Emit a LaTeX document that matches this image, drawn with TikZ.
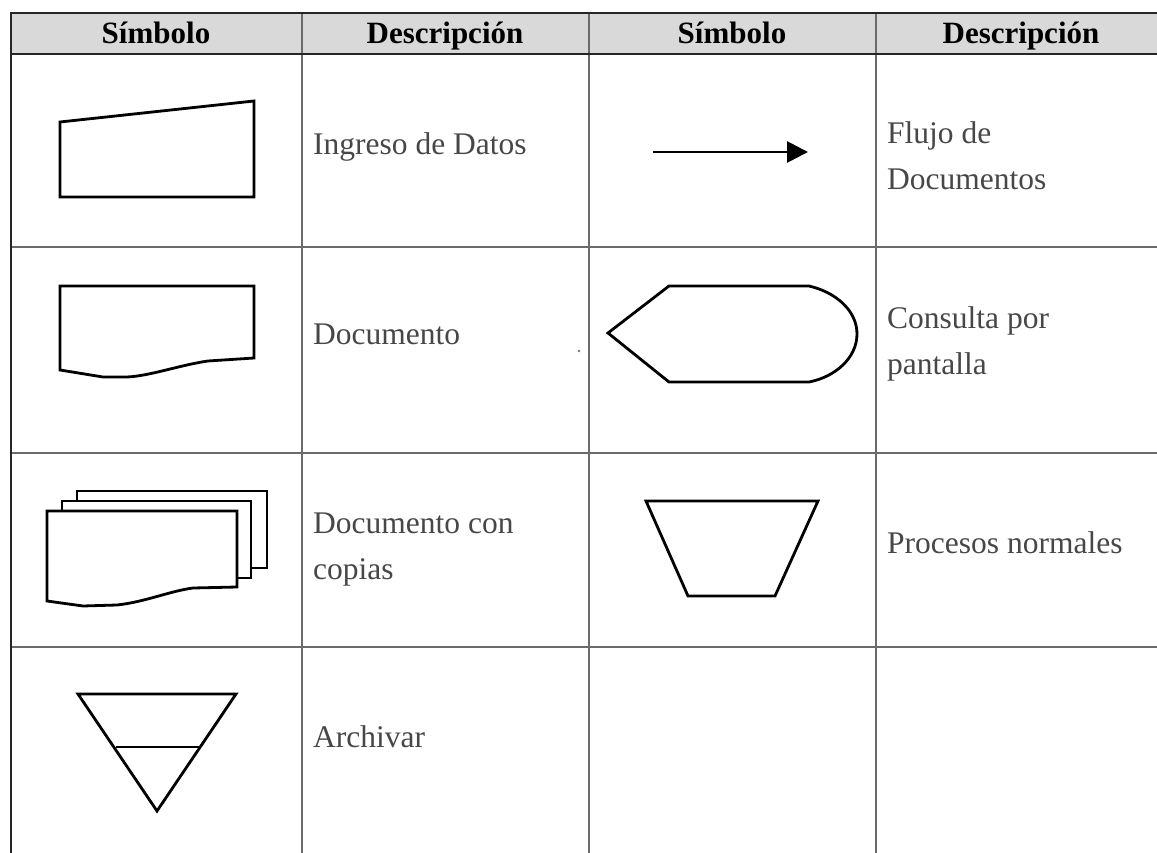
\documentclass[tikz,border=0pt]{standalone}
\usepackage{fontspec}
\setmainfont{Liberation Serif}
\usetikzlibrary{arrows.meta}
\begin{document}
\begin{tikzpicture}[x=1pt,y=-1pt,
  gridline/.style={line width=1.5pt, draw=black!58},
  frameline/.style={line width=2.6pt, draw=black!85},
  sym/.style={line width=2.8pt, draw=black, line join=miter},
  desc/.style={anchor=base west, font=\fontsize{31.5}{46}\selectfont, text=black!72, inner sep=0pt, align=left},
  head/.style={anchor=base, font=\fontsize{31}{36}\selectfont\bfseries, text=black, inner sep=0pt}]
\useasboundingbox (0,0) rectangle (1157,853);
% header background
\fill[black!15] (11,13) rectangle (1157,54);
% grid
\draw[gridline] (11,247) -- (1157,247);
\draw[gridline] (11,453) -- (1157,453);
\draw[gridline] (11,647) -- (1157,647);
\draw[gridline] (302,13) -- (302,853);
\draw[gridline] (589,13) -- (589,853);
\draw[gridline] (876,13) -- (876,853);
\draw[frameline] (1157,13) -- (11,13) -- (11,853);
\draw[frameline] (11,54) -- (1157,54);
% header
\node[head] (h1) at (156,44) {Símbolo};
\node[head] (h2) at (445,44) {Descripción};
\node[head] (h3) at (732,44) {Símbolo};
\node[head] (h4) at (1021,44) {Descripción};
% descriptions (base = baseline of last line)
\node[desc] (d1) at (313,155) {Ingreso de Datos};
\node[desc] (d2) at (313,344) {Documento};
\node[desc] (d3) at (313,579) {Documento con\\copias};
\node[desc] (d4) at (313,747) {Archivar};
\node[desc] (d5) at (887,190) {Flujo de\\Documentos};
\node[desc] (d6) at (887,374) {Consulta por\\pantalla};
\node[desc] (d7) at (887,553) {Procesos normales};
% symbol 1: ingreso de datos
\draw[sym] (60,122) -- (254,101) -- (254,197) -- (60,197) -- cycle;
% symbol 2: documento
\draw[sym] (60,370) -- (60,286) -- (254,286) -- (254,358) -- (208,361)
  .. controls (180,365) and (150,376) .. (127,377) -- (103,377) -- cycle;
% symbol 3: documento con copias
\draw[sym] (77,501) -- (77,491) -- (267,491) -- (267,568) -- (251,568);
\draw[sym] (62,511) -- (62,501) -- (251,501) -- (251,578) -- (237,578);
\draw[sym] (47,601) -- (47,511) -- (237,511) -- (237,587) -- (193,588)
  .. controls (170,591) and (145,602) .. (117,605) -- (83,606) -- cycle;
% symbol 4: archivar
\draw[sym] (78,694) -- (236,694) -- (157,811) -- cycle;
\draw[sym] (116,747) -- (199,747);
% arrow: flujo de documentos
\coordinate (a1) at (653,152);
\coordinate (a2) at (808,152);
\draw[sym, -{Triangle[length=21pt,width=21pt]}] (a1) -- (a2);
% consulta por pantalla
\draw[sym] (608,333) -- (669,286) -- (809,286)
  .. controls (835,292) and (857,310) .. (857,334)
  .. controls (857,358) and (835,377) .. (809,382) -- (669,382) -- cycle;
\fill[black!55] (579,351) circle (1.3);
% procesos normales
\draw[sym] (646,501) -- (818,501) -- (775,596) -- (688,596) -- cycle;
\end{tikzpicture}
\end{document}
